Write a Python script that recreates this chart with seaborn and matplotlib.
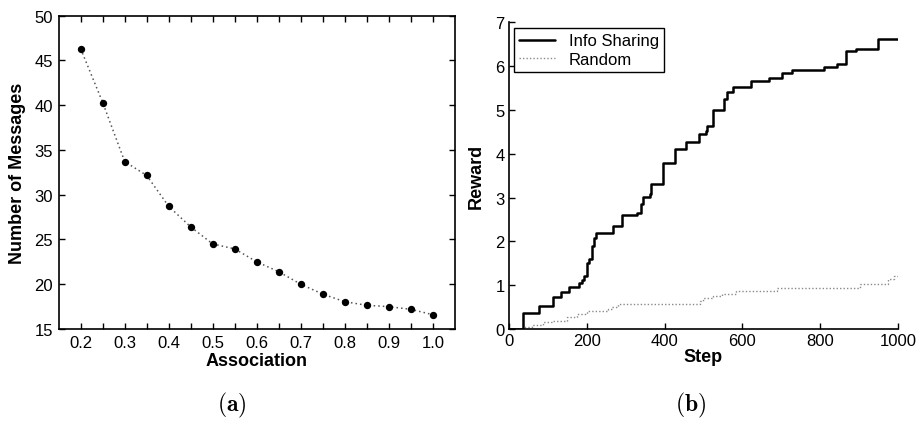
import matplotlib
matplotlib.use("Agg")
import matplotlib.pyplot as plt
import seaborn as sns
import pandas as pd

# ---- data ----
association = [0.2, 0.25, 0.3, 0.35, 0.4, 0.45, 0.5, 0.55, 0.6, 0.65, 0.7, 0.75, 0.8, 0.85, 0.9, 0.95, 1.0]
messages = [46.3, 40.3, 33.7, 32.15, 28.7, 26.4, 24.5, 23.95, 22.5, 21.4, 20.0, 18.9, 18.05, 17.65, 17.5, 17.2, 16.6]

info_step = [0, 35, 77, 112, 133, 154, 181, 187, 192, 200, 207, 213, 219, 225, 267, 290, 330, 340, 345, 363,
             366, 397, 427, 456, 488, 507, 510, 525, 552, 560, 577, 623, 668, 701, 727, 811, 843, 866, 892, 948, 1000]
info_reward = [0, 0.36, 0.52, 0.74, 0.84, 0.95, 1.05, 1.12, 1.22, 1.5, 1.6, 1.9, 2.07, 2.2, 2.35, 2.6, 2.64, 2.85,
               3.02, 3.08, 3.3, 3.8, 4.1, 4.26, 4.45, 4.52, 4.64, 4.99, 5.24, 5.4, 5.53, 5.66, 5.72, 5.85, 5.91,
               5.97, 6.05, 6.35, 6.4, 6.62, 6.62]

rand_step = [0, 40, 60, 88, 114, 148, 174, 200, 255, 265, 281, 490, 500, 525, 547, 585, 688, 902, 975, 990, 1000]
rand_reward = [0, 0.05, 0.1, 0.15, 0.19, 0.27, 0.34, 0.4, 0.45, 0.5, 0.57, 0.65, 0.7, 0.75, 0.8, 0.87, 0.93,
               1.03, 1.14, 1.22, 1.25]

left_xticks = [0.2, 0.25, 0.3, 0.35, 0.4, 0.45, 0.5, 0.55, 0.6, 0.65, 0.7, 0.75, 0.8, 0.85, 0.9, 0.95, 1.0]
left_xticklabels = ["0.2", "", "0.3", "", "0.4", "", "0.5", "", "0.6", "", "0.7", "", "0.8", "", "0.9", "", "1.0"]
left_yticks = [15, 20, 25, 30, 35, 40, 45, 50]
right_xticks = [0, 200, 400, 600, 800, 1000]
right_yticks = [0, 1, 2, 3, 4, 5, 6, 7]

sns.set_style("white")
plt.rcParams["font.family"] = ["Liberation Sans", "DejaVu Sans"]
plt.rcParams["mathtext.fontset"] = "cm"
plt.rcParams["text.color"] = "black"
plt.rcParams["axes.labelcolor"] = "black"
plt.rcParams["xtick.color"] = "black"
plt.rcParams["ytick.color"] = "black"

fig = plt.figure(figsize=(9.17, 4.31), dpi=100)
ax1 = fig.add_axes([0.064, 0.2343, 0.432, 0.727])
ax2 = fig.add_axes([0.555, 0.2343, 0.4242, 0.7116])

df_a = pd.DataFrame({"Association": association, "Messages": messages})
sns.lineplot(data=df_a, x="Association", y="Messages", ax=ax1, color="#555555",
             linestyle=(0, (1, 2)), linewidth=1.1, estimator=None)
sns.scatterplot(data=df_a, x="Association", y="Messages", ax=ax1, color="black",
                s=28, edgecolor="black", linewidth=0, zorder=3)
ax1.set_xlim(0.15, 1.05)
ax1.set_ylim(15, 50)
ax1.set_xticks(left_xticks)
ax1.set_xticklabels(left_xticklabels)
ax1.set_yticks(left_yticks)
ax1.tick_params(direction="in", length=4, width=1, labelsize=12, top=True, right=True,
                bottom=True, left=True, pad=4, colors="black")
for s in ax1.spines.values():
    s.set_linewidth(1.2)
    s.set_color("black")
ax1.set_xlabel("Association", fontsize=13, fontweight="bold", labelpad=2, color="black")
ax1.set_ylabel("Number of Messages", fontsize=13, fontweight="bold", labelpad=6, color="black")

df_i = pd.DataFrame({"Step": info_step, "Reward": info_reward})
df_r = pd.DataFrame({"Step": rand_step, "Reward": rand_reward})
sns.lineplot(data=df_i, x="Step", y="Reward", ax=ax2, color="black", linewidth=1.8,
             drawstyle="steps-post", estimator=None, label="Info Sharing")
sns.lineplot(data=df_r, x="Step", y="Reward", ax=ax2, color="#8a8a8a", linewidth=1.0,
             linestyle=(0, (1, 1.5)), drawstyle="steps-post", estimator=None, label="Random")
ax2.set_xlim(0, 1000)
ax2.set_ylim(0, 7)
ax2.set_xticks(right_xticks)
ax2.set_yticks(right_yticks)
ax2.tick_params(direction="in", length=4, width=1, labelsize=12, bottom=True, left=True, pad=3,
                colors="black")
for side in ["top", "right"]:
    ax2.spines[side].set_visible(False)
for side in ["left", "bottom"]:
    ax2.spines[side].set_linewidth(1.2)
    ax2.spines[side].set_color("black")
ax2.set_xlabel("Step", fontsize=13, fontweight="bold", labelpad=0, color="black")
ax2.set_ylabel("Reward", fontsize=13, fontweight="bold", labelpad=8, color="black")
leg = ax2.legend(loc="upper left", bbox_to_anchor=(0.012, 0.98), fontsize=12, frameon=True,
                 fancybox=False, edgecolor="black", framealpha=1, borderpad=0.3,
                 handlelength=2.2, handletextpad=0.8, labelspacing=0.2, borderaxespad=0)
leg.get_frame().set_linewidth(1.0)
for t in leg.get_texts():
    t.set_color("black")

fig.text(0.253, 0.06, r"$\mathbf{(a)}$", ha="center", va="center", fontsize=17)
fig.text(0.753, 0.06, r"$\mathbf{(b)}$", ha="center", va="center", fontsize=17)

fig.savefig("out.png", dpi=100)
